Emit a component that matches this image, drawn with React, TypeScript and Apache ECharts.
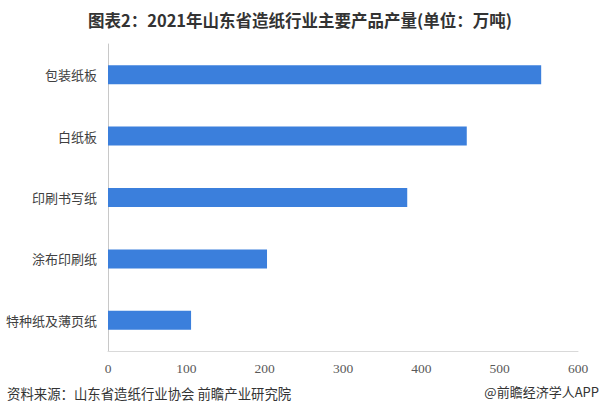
import React, { useEffect, useRef } from 'react';
import * as echarts from 'echarts';

const categories = ['包装纸板', '白纸板', '印刷书写纸', '涂布印刷纸', '特种纸及薄页纸'];
const output = [553, 458, 382, 203, 106];
const xTicks = [0, 100, 200, 300, 400, 500, 600];

const TITLE = '图表2：2021年山东省造纸行业主要产品产量(单位：万吨)';
const SOURCE = '资料来源：山东省造纸行业协会 前瞻产业研究院';
const BRAND = '@前瞻经济学人APP';

const CJK = '"Noto Sans CJK SC", "Microsoft YaHei", sans-serif';

export default function App() {
  const ref = useRef<HTMLDivElement>(null);
  useEffect(() => {
    if (!ref.current) return;
    const chart = echarts.init(ref.current, undefined, { renderer: 'svg' });
    chart.setOption({
      animation: false,
      backgroundColor: '#fff',
      title: {
        text: TITLE,
        left: 'center',
        top: 7,
        textStyle: { color: '#333', fontSize: 16.5, fontWeight: 'bold', fontFamily: CJK },
      },
      grid: { left: 108, right: 22, top: 44, bottom: 65 },
      xAxis: {
        type: 'value',
        min: xTicks[0],
        max: xTicks[xTicks.length - 1],
        interval: 100,
        axisLine: { show: true, lineStyle: { color: '#d9d9d9' } },
        axisTick: { show: false },
        splitLine: { show: false },
        axisLabel: { color: '#595959', fontSize: 13.5, fontFamily: '"Liberation Serif", serif', margin: 10 },
      },
      yAxis: {
        type: 'category',
        data: categories,
        inverse: true,
        axisLine: { show: true, lineStyle: { color: '#c8c8c8' } },
        axisTick: { show: false },
        axisLabel: { color: '#404040', fontSize: 13, fontFamily: CJK, margin: 11 },
      },
      series: [
        {
          type: 'bar',
          data: output,
          barWidth: 19,
          itemStyle: { color: '#3b7fdc' },
        },
      ],
      graphic: [
        {
          type: 'text',
          left: 7,
          top: 386,
          style: { text: SOURCE, fill: '#333', fontSize: 13.4, fontFamily: CJK },
        },
        {
          type: 'text',
          right: 1,
          top: 385,
          style: { text: BRAND, fill: '#333', fontSize: 13, fontFamily: CJK },
        },
      ],
    });
    return () => chart.dispose();
  }, []);
  return (
    <div
      ref={ref}
      style={{ position: 'absolute', left: 0, top: 0, width: 600, height: 416 }}
    />
  );
}
